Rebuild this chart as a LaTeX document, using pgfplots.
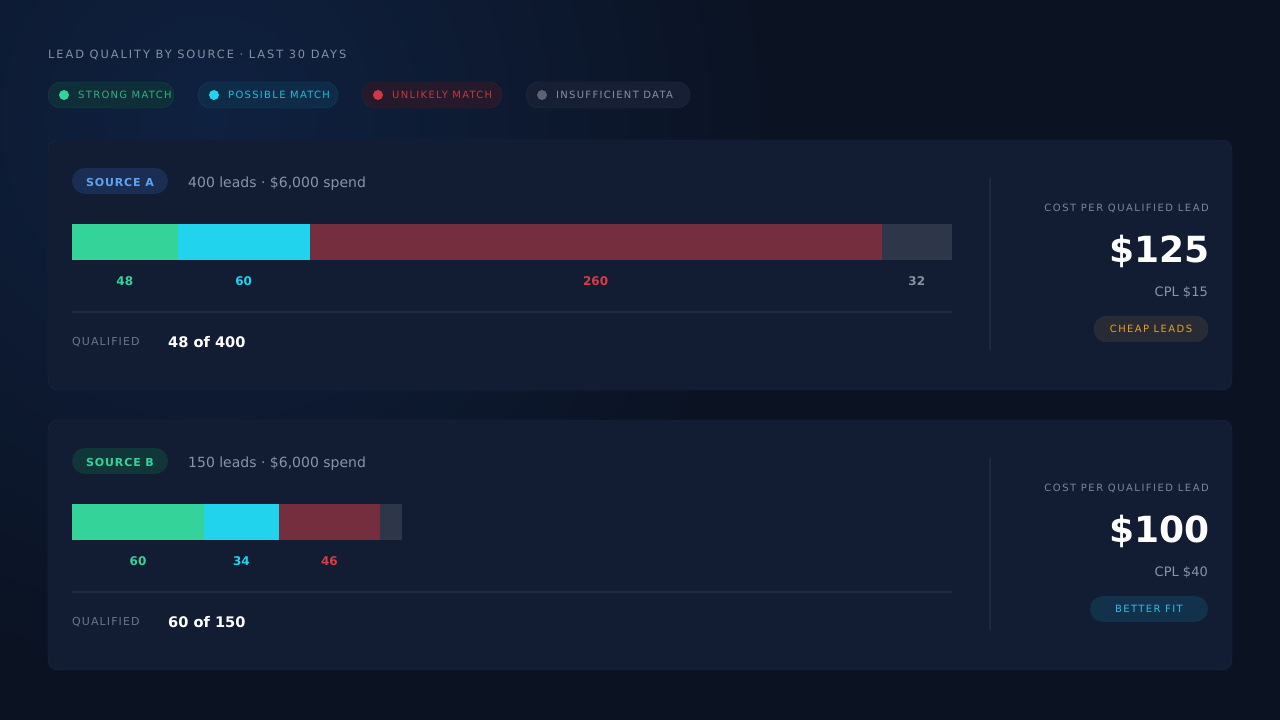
\documentclass[border=0pt]{standalone}
\usepackage{fontspec}
\setmainfont{DejaVu Sans}
\newfontfamily\spaced{DejaVu Sans}[LetterSpace=13]
\usepackage{pgfplots}
\pgfplotsset{compat=1.18}
\newcommand\fs[1]{\fontsize{#1}{#1}\selectfont}

\definecolor{bg}{HTML}{0B1323}
\definecolor{glow}{HTML}{0F2140}
\definecolor{card}{HTML}{121C33}
\definecolor{cardline}{HTML}{1D2A44}
\definecolor{cgreen}{HTML}{34D399}
\definecolor{ccyan}{HTML}{22D3EE}
\definecolor{credbar}{HTML}{752E3E}
\definecolor{cgraybar}{HTML}{2D3749}
\definecolor{credtxt}{HTML}{DC3B47}
\definecolor{cgraytxt}{HTML}{8891A2}
\definecolor{titlegray}{HTML}{8591A3}
\definecolor{muted}{HTML}{6B7689}
\definecolor{subtext}{HTML}{8A94A6}
\definecolor{costtxt}{HTML}{7C8799}
\definecolor{pillA}{HTML}{1A2D52}
\definecolor{pillAtxt}{HTML}{5FA2F5}
\definecolor{pillB}{HTML}{11363A}
\definecolor{cheap}{HTML}{282B33}
\definecolor{cheapline}{HTML}{30343D}
\definecolor{cheaptxt}{HTML}{E8A019}
\definecolor{better}{HTML}{12324B}
\definecolor{bettertxt}{HTML}{2CC0E6}
\definecolor{lgreen}{HTML}{0F2F38}
\definecolor{lcyan}{HTML}{0E2C48}
\definecolor{lred}{HTML}{241A2C}
\definecolor{lredtxt}{HTML}{C8353F}
\definecolor{lgray}{HTML}{161F33}
\definecolor{lgrayline}{HTML}{243049}
\definecolor{lgraydot}{HTML}{5B6475}

% shared look of the bar axes
\pgfplotsset{
  leadbar/.style={anchor=south west, scale only axis, width=880pt, height=36pt,
    xmin=0, xmax=400, ymin=-0.5, ymax=0.5, hide axis, clip=false},
  seglabel/.style={draw=none, nodes near coords={\pgfplotspointmeta},
    point meta=explicit symbolic,
    every node near coord/.style={anchor=center, yshift=-21.5pt, inner sep=0pt,
      font=\bfseries\fs{12}, text=#1}},
}

\begin{document}
\begin{tikzpicture}[x=1pt, y=1pt]
\fill[bg] (0,0) rectangle (1280,720);
\path[use as bounding box] (0,0) rectangle (1280,720);
\shade[inner color=glow, outer color=bg] (210,600) circle (560);

% title and legend
\node[anchor=base west, inner sep=0, text=titlegray] at (48,661)
  {\spaced\addfontfeature{LetterSpace=17}\fs{11.4}LEAD QUALITY BY SOURCE · LAST 30 DAYS};

\filldraw[fill=lgreen, draw=lgreen!80!cgreen!60!lgreen, rounded corners=13] (48,612) rectangle (174,638);
\fill[cgreen] (64,625) circle (5);
\node[anchor=base west, inner sep=0, text=cgreen!85!black] at (78,621.4) {\spaced\fs{10}STRONG MATCH};

\filldraw[fill=lcyan, draw=lcyan!85!ccyan, rounded corners=13] (198,612) rectangle (338,638);
\fill[ccyan] (214,625) circle (5);
\node[anchor=base west, inner sep=0, text=ccyan!90!black] at (228,621.4) {\spaced\fs{10}POSSIBLE MATCH};

\filldraw[fill=lred, draw=lred!85!credtxt, rounded corners=13] (362,612) rectangle (502,638);
\fill[credtxt!95!black] (378,625) circle (5);
\node[anchor=base west, inner sep=0, text=lredtxt] at (392,621.4) {\spaced\fs{10}UNLIKELY MATCH};

\filldraw[fill=lgray, draw=lgrayline, rounded corners=13] (526,612) rectangle (690,638);
\fill[lgraydot] (542,625) circle (5);
\node[anchor=base west, inner sep=0, text=cgraytxt] at (556,621.4) {\spaced\fs{10}INSUFFICIENT DATA};

% ---------------- card A ----------------
\filldraw[fill=card, draw=cardline, rounded corners=10] (48,330) rectangle (1232,580);
\fill[pillA, rounded corners=13] (72,526) rectangle (168,552);
\node[anchor=base, inner sep=0, text=pillAtxt] at (120,533.5) {\spaced\addfontfeature{LetterSpace=8}\bfseries\fs{11}SOURCE A};
\node[anchor=base west, inner sep=0, text=subtext] at (188,532.5) {\fs{14}400 leads · \$6,000 spend};
\draw[cardline, line width=1.5] (72,408) -- (952,408);
\node[anchor=base west, inner sep=0, text=muted] at (72,374) {\spaced\addfontfeature{LetterSpace=10}\fs{11}QUALIFIED};
\node[anchor=base west, inner sep=0, text=white] at (168,372.5) {\bfseries\fs{14.6}48 of 400};
\draw[cardline, line width=1.5] (990,370) -- (990,542);
\node[anchor=base east, inner sep=0, text=costtxt] at (1209,508.4) {\spaced\addfontfeature{LetterSpace=15}\fs{10}COST PER QUALIFIED LEAD};
\node[anchor=base east, inner sep=0, text=white] at (1210,457.5) {\bfseries\fs{36}\$125};
\node[anchor=base east, inner sep=0, text=subtext] at (1208,423.3) {\fs{13}CPL \$15};
\filldraw[fill=cheap, draw=cheapline, rounded corners=13] (1094,378) rectangle (1208,404);
\node[anchor=base, inner sep=0, text=cheaptxt] at (1151,387.4) {\spaced\addfontfeature{LetterSpace=14}\fs{10}CHEAP LEADS};

\begin{axis}[leadbar, at={(72pt,460pt)}, xbar stacked, bar width=1]
\addplot[fill=cgreen, draw=none] coordinates {(48,0)};
\addplot[fill=ccyan, draw=none] coordinates {(60,0)};
\addplot[fill=credbar, draw=none] coordinates {(260,0)};
\addplot[fill=cgraybar, draw=none] coordinates {(32,0)};
\end{axis}
\begin{axis}[leadbar, at={(72pt,460pt)}]
\addplot[seglabel=cgreen] coordinates {(24,-0.5) [48]};
\addplot[seglabel=ccyan] coordinates {(78,-0.5) [60]};
\addplot[seglabel=credtxt] coordinates {(238,-0.5) [260]};
\addplot[seglabel=cgraytxt] coordinates {(384,-0.5) [32]};
\end{axis}

% ---------------- card B ----------------
\filldraw[fill=card, draw=cardline, rounded corners=10] (48,50) rectangle (1232,300);
\fill[pillB, rounded corners=13] (72,246) rectangle (168,272);
\node[anchor=base, inner sep=0, text=cgreen] at (120,253.5) {\spaced\addfontfeature{LetterSpace=8}\bfseries\fs{11}SOURCE B};
\node[anchor=base west, inner sep=0, text=subtext] at (188,252.5) {\fs{14}150 leads · \$6,000 spend};
\draw[cardline, line width=1.5] (72,128) -- (952,128);
\node[anchor=base west, inner sep=0, text=muted] at (72,94) {\spaced\addfontfeature{LetterSpace=10}\fs{11}QUALIFIED};
\node[anchor=base west, inner sep=0, text=white] at (168,92.5) {\bfseries\fs{14.6}60 of 150};
\draw[cardline, line width=1.5] (990,90) -- (990,262);
\node[anchor=base east, inner sep=0, text=costtxt] at (1209,228.4) {\spaced\addfontfeature{LetterSpace=15}\fs{10}COST PER QUALIFIED LEAD};
\node[anchor=base east, inner sep=0, text=white] at (1210,177.5) {\bfseries\fs{36}\$100};
\node[anchor=base east, inner sep=0, text=subtext] at (1208,143.3) {\fs{13}CPL \$40};
\fill[better, rounded corners=13] (1090,98) rectangle (1208,124);
\node[anchor=base, inner sep=0, text=bettertxt] at (1149,107.4) {\spaced\addfontfeature{LetterSpace=14}\fs{10}BETTER FIT};

\begin{axis}[leadbar, at={(72pt,180pt)}, xbar stacked, bar width=1]
\addplot[fill=cgreen, draw=none] coordinates {(60,0)};
\addplot[fill=ccyan, draw=none] coordinates {(34,0)};
\addplot[fill=credbar, draw=none] coordinates {(46,0)};
\addplot[fill=cgraybar, draw=none] coordinates {(10,0)};
\end{axis}
\begin{axis}[leadbar, at={(72pt,180pt)}]
\addplot[seglabel=cgreen] coordinates {(30,-0.5) [60]};
\addplot[seglabel=ccyan] coordinates {(77,-0.5) [34]};
\addplot[seglabel=credtxt] coordinates {(117,-0.5) [46]};
\end{axis}
\end{tikzpicture}
\end{document}
